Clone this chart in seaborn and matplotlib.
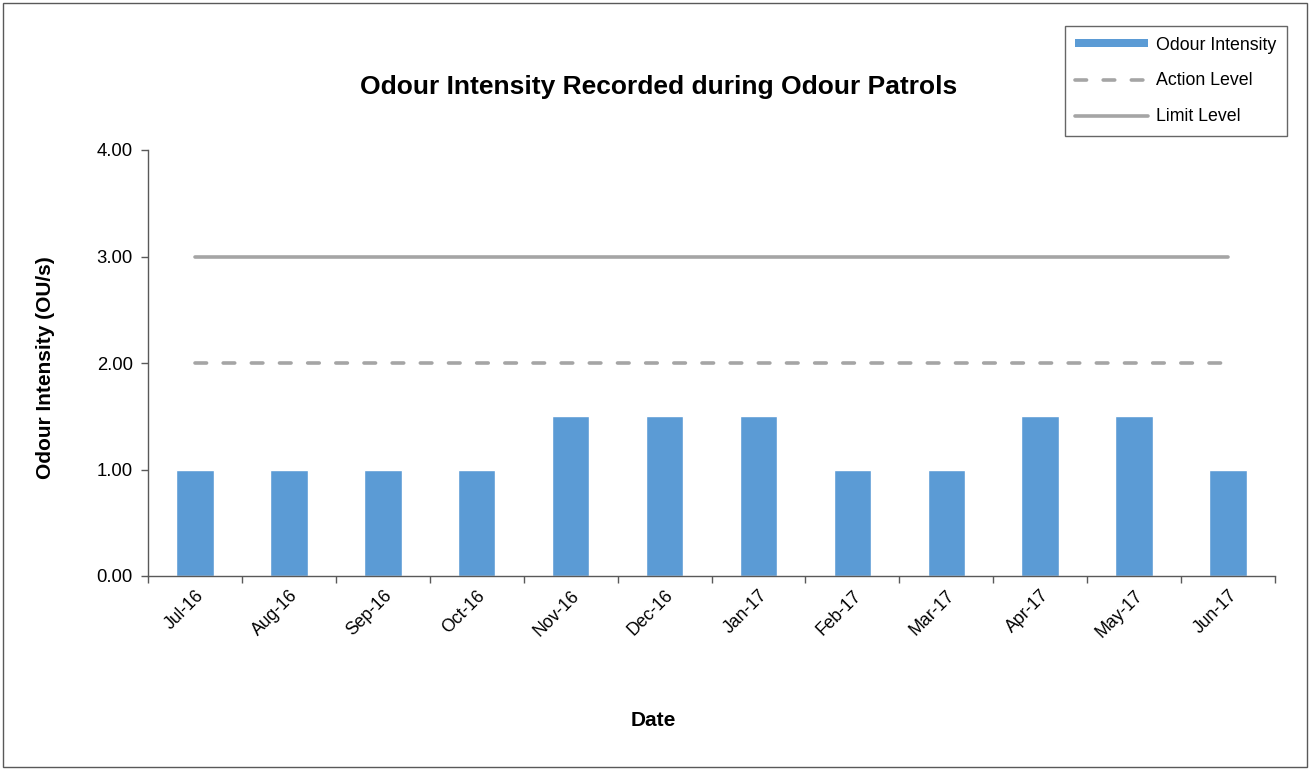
import matplotlib
matplotlib.use("Agg")
import matplotlib.pyplot as plt
import seaborn as sns
import pandas as pd
import numpy as np
from matplotlib.patches import Rectangle
from matplotlib.lines import Line2D
from matplotlib.patches import Patch

months = ["Jul-16", "Aug-16", "Sep-16", "Oct-16", "Nov-16", "Dec-16",
          "Jan-17", "Feb-17", "Mar-17", "Apr-17", "May-17", "Jun-17"]
odour_intensity = [1.0, 1.0, 1.0, 1.0, 1.5, 1.5, 1.5, 1.0, 1.0, 1.5, 1.5, 1.0]
action_level = [2.0] * 12
limit_level = [3.0] * 12
y_ticks = [0.0, 1.0, 2.0, 3.0, 4.0]

sns.set_theme(style="white")
plt.rcParams['font.family'] = ['Liberation Sans', 'DejaVu Sans']
plt.rcParams['text.color'] = 'black'
plt.rcParams['axes.labelcolor'] = 'black'
plt.rcParams['xtick.color'] = 'black'
plt.rcParams['ytick.color'] = 'black'

df = pd.DataFrame({"Date": months, "Odour Intensity": odour_intensity})

fig = plt.figure(figsize=(13.11, 7.70), dpi=100)
ax = fig.add_axes([148/1311, 1 - 576/770, (1275-148)/1311, (576-150)/770])

bar_color = "#5B9BD5"
line_color = "#A5A5A5"
lw = 2.6
dash = (0, (3.2, 4.6))

sns.barplot(data=df, x="Date", y="Odour Intensity", color=bar_color,
            width=0.4, saturation=1, ax=ax)
x = np.arange(len(months))
ax.plot(x, action_level, color=line_color, lw=lw, linestyle=dash,
        dash_capstyle="round")
ax.plot(x, limit_level, color=line_color, lw=lw, solid_capstyle="round")

ax.set_xlim(-0.5, len(months) - 0.5)
ax.set_ylim(0, 4)
ax.set_yticks(y_ticks)
ax.set_yticklabels([f"{v:.2f}" for v in y_ticks], fontsize=13.3)

ax.set_xticks(np.arange(-0.5, len(months), 1.0))
ax.set_xticklabels([])
ax.set_xticks(x, minor=True)
ax.set_xticklabels(months, minor=True, rotation=45, ha="right",
                   rotation_mode="anchor", fontsize=12.7)
ax.tick_params(axis="x", which="major", direction="out", length=5, width=1,
               color="#595959", bottom=True)
ax.tick_params(axis="x", which="minor", length=0, pad=8, bottom=True)
ax.tick_params(axis="y", direction="out", length=5, width=1, color="#595959",
               left=True, pad=6)

for s in ["top", "right"]:
    ax.spines[s].set_visible(False)
for s in ["left", "bottom"]:
    ax.spines[s].set_color("#595959")
    ax.spines[s].set_linewidth(1)

ax.set_xlabel("")
ax.set_ylabel("Odour Intensity (OU/s)", fontsize=15, fontweight="bold")
ax.yaxis.set_label_coords((46 - 148) / 1127, 0.49)
ax.yaxis.label.set_va("center")
fig.text(0.4985, 1 - 720/770, "Date", ha="center", va="center",
         fontsize=15, fontweight="bold")
fig.text(659/1311, 1 - 87/770, "Odour Intensity Recorded during Odour Patrols",
         ha="center", va="center", fontsize=19, fontweight="bold")

handles = [Patch(facecolor=bar_color, edgecolor="none"),
           Line2D([0], [0], color=line_color, lw=lw, linestyle=dash,
                  dash_capstyle="round"),
           Line2D([0], [0], color=line_color, lw=lw, solid_capstyle="round")]
labels = ["Odour Intensity", "Action Level", "Limit Level"]
leg = fig.legend(handles, labels, loc="upper right",
                 bbox_to_anchor=(1287/1311, 1 - 26/770), borderaxespad=0,
                 fontsize=12.8, frameon=True, fancybox=False, edgecolor="#404040",
                 handlelength=4.1, handleheight=0.35, labelspacing=1.05,
                 borderpad=0.6, handletextpad=0.45)
leg.get_frame().set_linewidth(1)

fig.patches.append(Rectangle((3/1311, 3/770), 1304/1311, 764/770,
                             transform=fig.transFigure, fill=False,
                             edgecolor="#595959", lw=1))

fig.savefig("out.png", dpi=100)
